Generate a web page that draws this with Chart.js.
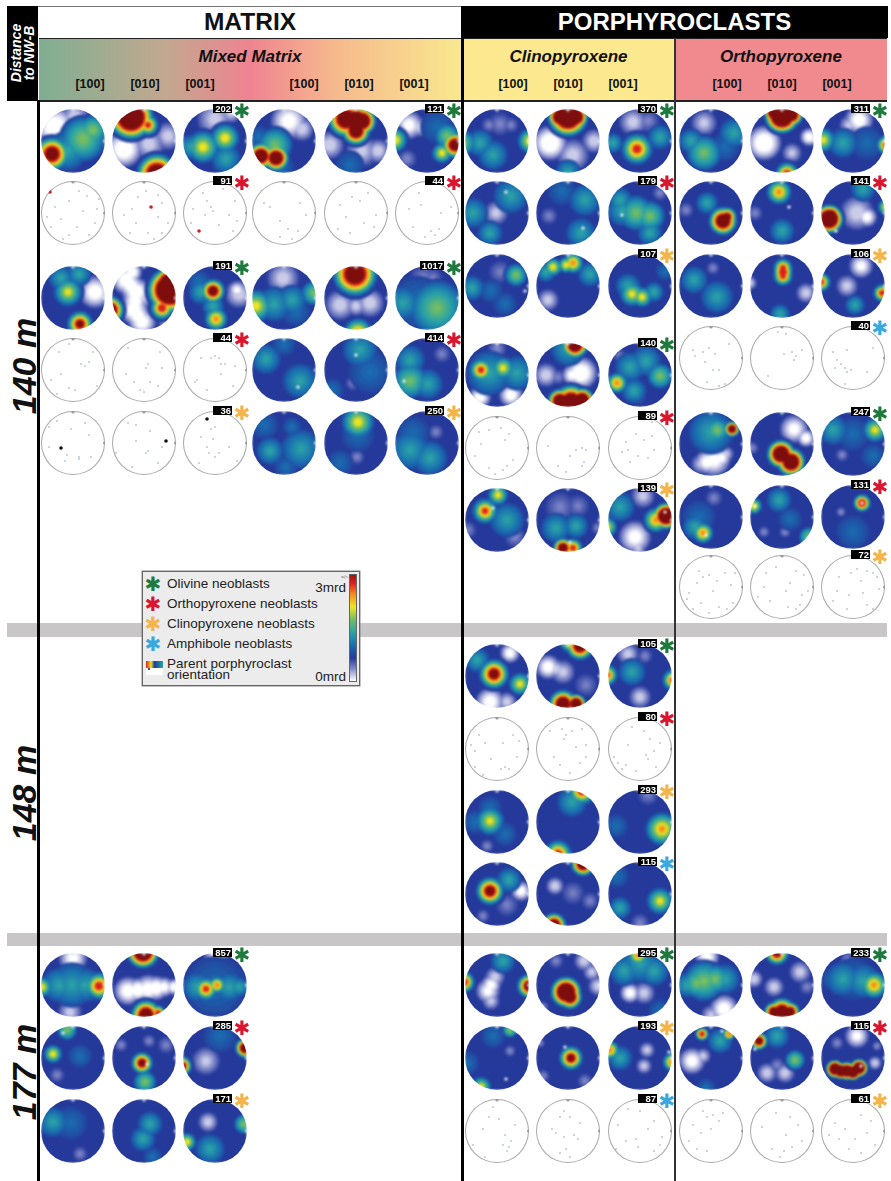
<!DOCTYPE html>
<html>
<head>
<meta charset="utf-8">
<script src="https://cdn.jsdelivr.net/npm/chart.js@4"></script>
<style>
html, body { margin: 0; padding: 0; background: #fff; }
body { position: relative; width: 891px; height: 1181px; overflow: hidden; font-family: "Liberation Sans", Arial, sans-serif; color: #111; }
.abs { position: absolute; }
.c { display: flex; align-items: center; justify-content: center; white-space: nowrap; }
.tick-label { font-weight: bold; font-size: 12.5px; transform: translateX(-50%); }
.dist { font-weight: bold; font-style: italic; font-size: 34px; transform: translate(-50%, -50%) rotate(-90deg); white-space: nowrap; }
.net { position: absolute; width: 64px; height: 64px; border-radius: 50%; overflow: hidden; }
.net canvas { display: block; filter: blur(1px); }
.net.sparse canvas { filter: none; }
.net.sparse { box-shadow: inset 0 0 0 1px #a8a8a8; }
.count { position: absolute; height: 9px; background: #000; color: #fff; font-size: 9.5px; font-weight: bold; line-height: 9px; text-align: right; padding-right: 1px; }
.star { position: absolute; font-family: "DejaVu Sans"; font-size: 20px; line-height: 20px; transform: translate(-50%, -50%); }
.leg { position: absolute; font-size: 13.5px; line-height: 13px; color: #222; white-space: nowrap; }
</style>
</head>
<body>
<script>
// Colour levels of the density scale, 0 = white ... 10 = dark red. Level 3 is the disc ground.
const levelColors = ["#ffffff", "#c9cbe8", "#7c84c6", "#25399b", "#1a6fb0", "#2aa3a6", "#74bd62", "#efe51f", "#f68d1e", "#d8201f", "#7e0d0d"];
const mineralColors = { ol: "#1e7a3c", opx: "#d9162e", cpx: "#f3b54a", amph: "#3aa8dc" };
const axisLabels = ["[100]", "[010]", "[001]"];

// Pole figures, three per row. Tuples: [x, y, peak level, outer radius, core radius],
// [x, y, "w"|"r"|"k"] parent orientation mark, [x, y] single grain of a sparse plot.
const matrixRow1a = [
  [[-18,14,0,20,9],[2,24,1,14,5],[-21,-13,10,17,6],[10,2,6,18,4],[20,11,6,12,3],[-6,-10,5,16,3]],
  [[-20,-8,0,18,8],[5,-3,1,16,5],[24,5,1,14,4],[-13,24,10,22,12],[4,16,9,11,2],[13,-33,10,20,9]],
  [[0,22,1,18,5],[16,28,1,10,3],[-12,-6,7,16,3],[-24,-6,5,10,2],[10,3,7,14,3],[11,-18,5,12,2]]
];
const matrixRow1b = [
  [[5,20,0,18,6],[18,12,1,12,4],[-23,-15,10,13,6],[-8,-17,10,13,6],[-9,-4,6,14,2],[-26,4,4,10,2],[-2,-26,4,10,2]],
  [[-26,-4,1,14,5],[6,-10,1,16,4],[22,-10,1,12,4],[-10,22,10,18,8],[6,20,10,14,7],[0,10,10,14,6],[0,20,10,14,9],[-6,-24,4,12,2]],
  [[-18,16,0,14,4],[-8,14,1,10,3],[-20,-18,2,10,3],[28,-4,10,13,5],[15,-12,7,10,2],[20,5,6,10,2],[-32,1,7,12,3],[10,14,4,14,2]]
];
const matrixRow2a = [
  [[-23,21,"r"],[14,17],[-4,12],[-18,6],[24,4],[10,2],[-12,-6],[22,-10],[4,-14],[-22,-14],[16,-22],[-4,-22],[6,22],[-10,-26],[26,14],[-26,-4]],
  [[7,6,"r"],[-6,16],[14,18],[18,10],[-12,4],[2,22],[-20,-2],[14,-4],[24,-10],[-8,-10],[4,-20],[18,-20],[-14,-20],[10,-26]],
  [[-16,-18,"r"],[-12,20],[-4,6],[-10,-2],[-2,2],[-8,12],[14,-2],[20,12],[-22,4],[4,-12],[18,-18],[-24,-10],[8,24],[22,-8]]
];
const matrixRow2b = [
  [[-14,6],[4,-16],[-4,-24],[8,-26],[14,-18],[-20,10],[16,10],[-4,-8],[22,-2]],
  [[-4,16],[4,12],[12,20],[-16,8],[20,-2],[-10,-4],[8,-10],[-6,-20],[-18,-16],[18,-14]],
  [[-6,8],[14,0],[-18,4],[4,-18],[8,-22],[-2,-24],[12,-16],[24,6],[-14,-14],[-8,20]]
];
const matrixRow3a = [
  [[22,6,0,16,6],[-5,6,7,14,2],[-12,20,5,10,2],[6,24,5,10,2],[7,-26,10,13,3]],
  [[-18,18,0,14,6],[-12,26,0,10,4],[-13,12,0,12,5],[-8,6,0,14,6],[-9,-3,0,12,5],[-10,-12,0,14,6],[-6,-18,0,12,5],[-2,-24,0,14,5],[0,2,1,13,4],[26,-24,1,12,4],[26,8,10,22,13],[24,16,10,14,7],[18,-10,9,12,3],[-34,-12,10,14,6]],
  [[24,4,1,14,5],[22,8,0,9,2],[-2,7,10,12,4],[1,-21,8,11,2],[-14,6,5,10,2],[-2,-8,5,9,2],[-16,16,4,10,2]]
];
const matrixRow3b = [
  [[-1,20,1,16,5],[-28,-8,7,16,3],[-10,-6,5,14,2],[8,-2,5,12,2],[30,5,6,10,2],[12,-14,4,12,2]],
  [[-16,-7,1,15,5],[14,-5,1,14,5],[0,-8,1,10,3],[-1,24,10,22,9],[2,-35,8,14,3]],
  [[-4,20,2,14,3],[6,20,2,10,2],[-10,-4,4,22,4],[10,-10,6,22,3],[-24,-5,5,14,2]]
];
const matrixRow4a = [
  [[8,6],[12,4],[16,8],[-14,18],[-22,-10],[-12,-4],[-4,-18],[2,-20],[-16,-24],[24,-16],[20,18],[-4,26]],
  [[2,2],[4,6],[-18,-4],[-10,-12],[6,-12],[-4,-20],[0,-22],[18,2],[14,-16],[-16,22],[16,18]],
  [[-4,12],[0,14],[4,12],[6,6],[10,6],[-14,12],[-18,-10],[-20,-12],[6,-4],[20,4],[18,-16],[-8,-20]]
];
const matrixRow4b = [
  [[-18,11,5,12,2],[16,-11,5,14,2],[0,26,4,10,2],[26,-20,4,10,2],[14,-17,"w"]],
  [[4,20,5,14,2],[-3,-13,2,8,2],[14,-2,4,18,3],[-24,-20,4,10,2],[0,15,"w"]],
  [[15,16,2,9,2],[-17,10,5,12,2],[-17,-11,6,14,2],[1,-14,5,12,2],[-23,-11,"w"]]
];
const matrixRow5a = [
  [[-12,-5,"k"],[-16,22],[-24,16],[-2,14],[16,8],[18,-14],[-6,-12],[6,-16],[-8,-18],[-24,-4],[12,20],[6,-14]],
  [[22,2,"k"],[-8,18],[-16,20],[6,12],[-8,2],[2,-10],[4,-8],[-28,-10],[14,-20],[-12,-24],[18,-4]],
  [[-8,24,"k"],[-14,6],[-4,14],[0,16],[-2,4],[-6,-10],[-8,-4],[4,-10],[0,-14],[-16,-20],[14,-4],[22,-18]]
];
const matrixRow5b = [
  [[17,-6,5,16,2],[-14,-8,5,11,2],[-20,18,4,12,2],[2,-24,4,10,2],[8,16,4,8,2]],
  [[1,-14,2,8,2],[2,21,7,16,3],[2,8,4,14,2],[-16,-20,4,11,2]],
  [[9,11,2,8,2],[-17,-7,5,16,2],[-14,10,4,14,2],[3,-15,5,14,2]]
];
const matrixRow6 = [
  [[0,27,0,14,4],[-3,-27,1,12,3],[-14,0,5,14,2],[-1,0,5,18,2],[12,0,5,14,2],[26,-1,9,14,3],[-31,-2,7,10,2]],
  [[-16,-6,0,14,5],[-6,-5,0,12,5],[4,-4,0,14,5],[12,-3,0,12,5],[20,-2,0,10,3],[30,-2,0,8,3],[-1,33,10,16,8],[2,-30,10,15,6],[14,-28,9,8,2]],
  [[1,27,0,12,4],[1,-27,2,10,2],[-18,-2,5,12,2],[0,-2,4,26,3],[14,-2,5,12,2],[-9,-4,9,12,2],[2,0,8,8,2],[24,-2,5,8,2]]
];
const matrixRow7 = [
  [[-16,-17,2,8,2],[-20,4,7,9,2],[-6,28,6,8,2],[7,2,4,10,2],[-10,25,"w"]],
  [[-23,13,2,7,2],[5,17,2,7,2],[22,13,2,9,2],[-2,-5,10,11,3],[1,-24,6,9,2],[3,-6,"w"]],
  [[-9,-3,1,14,3],[-33,-8,10,10,3],[30,10,10,10,4],[5,22,4,14,2]]
];
const matrixRow8 = [
  [[7,-23,2,8,2],[-20,9,5,12,2],[-2,8,4,14,2]],
  [[6,7,5,10,2],[-1,-8,5,10,2],[9,-26,4,8,2]],
  [[-7,9,1,10,3],[-28,-11,7,9,2],[29,7,6,8,2],[-5,-18,5,12,2]]
];

const cpxRow1 = [
  [[3,17,2,12,3],[-8,16,2,8,2],[14,16,2,8,2],[33,0,7,12,3],[-34,-2,6,10,2],[-17,-2,5,11,2],[-4,-14,5,12,2]],
  [[-18,-2,0,17,8],[5,-14,1,16,5],[26,0,1,12,4],[0,25,10,20,11],[8,24,10,12,6],[-8,24,10,12,6],[0,-31,5,10,2]],
  [[-7,19,1,14,4],[8,20,2,12,3],[-3,-8,9,16,3],[20,4,5,10,2],[-27,-2,5,8,2]]
];
const cpxRow2 = [
  [[-1,0,1,12,3],[14,17,5,14,2],[-24,0,5,12,2],[-7,-20,5,10,2],[9,21,"w"]],
  [[-19,-3,2,9,2],[17,13,5,13,2],[13,-20,5,12,2],[-6,22,4,12,2],[15,-15,"w"]],
  [[20,20,2,8,2],[-4,0,6,14,2],[10,-3,6,12,2],[-18,2,5,12,2],[-20,13,5,10,2],[10,-20,5,10,2],[-18,-2,"w"]]
];
const cpxRow3 = [
  [[3,14,2,12,2],[19,11,6,9,2],[-25,-2,5,10,2],[8,-18,4,10,2],[-6,-5,4,10,2],[28,-5,"w"]],
  [[-20,-14,1,11,3],[-15,19,7,9,2],[5,23,8,10,2],[-2,21,7,8,2],[-22,14,5,8,2],[22,12,5,10,2]],
  [[-8,-8,7,12,2],[2,-11,7,10,2],[-12,0,5,10,2],[14,-6,5,8,2],[25,15,4,8,2]]
];
const cpxRow5 = [
  [[0,26,2,10,3],[-17,-22,0,11,4],[14,-20,0,12,4],[-8,2,5,18,3],[20,2,5,14,2],[-16,5,9,12,2],[6,7,7,11,2]],
  [[13,2,0,16,7],[4,0,0,10,3],[-22,0,1,12,4],[-10,-2,2,8,2],[7,30,10,13,6],[0,26,5,14,2],[3,-27,10,17,8],[-8,-26,10,12,6],[14,-25,10,12,6]],
  [[5,24,2,10,2],[-20,19,2,7,2],[-3,-20,2,10,2],[-23,-8,8,10,2],[20,-1,6,10,2],[-10,8,5,12,2],[6,14,5,12,2],[-6,-16,5,10,2]]
];
const cpxRow6 = [
  [[-18,16],[-8,18],[4,20],[12,14],[-16,4],[-22,-8],[-8,-20],[6,-22],[10,-18],[-2,-26],[8,8],[16,-12]],
  [[-20,2],[8,-2],[14,0],[18,-2],[-10,-18],[14,-18],[16,-14],[2,-8],[-2,-24]],
  [[-14,6],[-4,14],[-12,-2],[4,8],[12,12],[14,-2],[-18,-4],[-2,-8],[8,-10],[-10,-14],[12,26]]
];
const cpxRow7 = [
  [[-29,-10,2,9,2],[18,-17,2,11,3],[10,0,5,14,2],[-12,9,9,13,2],[1,25,7,10,2],[-4,12,"w"]],
  [[-8,13,2,16,3],[10,14,2,12,2],[30,-8,2,7,2],[-12,-8,5,12,2],[8,-6,5,10,2],[-5,-28,10,10,4],[5,-28,9,10,2],[2,-22,"w"]],
  [[-5,-17,0,16,5],[-2,-28,1,8,2],[3,24,1,12,3],[-20,13,5,12,2],[-33,-7,7,10,2],[16,0,8,12,2],[26,4,10,13,7],[25,8,"w"]]
];

const opxRow1 = [
  [[-7,18,1,13,3],[-7,-12,6,14,2],[-20,0,5,10,2],[23,8,5,12,2],[14,-6,4,12,2]],
  [[-18,-2,0,17,8],[27,4,0,9,3],[10,-12,1,10,2],[0,25,10,17,10],[10,26,10,11,5],[-8,28,10,10,5],[5,-33,9,12,3]],
  [[6,21,0,14,5],[-4,16,1,10,2],[14,-2,4,14,2],[-30,1,7,12,2],[-10,-2,5,12,2],[33,-4,9,10,2]]
];
const opxRow2 = [
  [[-25,3,2,8,2],[-4,10,5,9,2],[12,-8,10,14,6],[16,-4,10,10,3]],
  [[-27,0,2,8,2],[-3,21,8,12,2],[0,-18,5,10,2],[7,6,"w"]],
  [[4,0,1,17,6],[14,-4,0,10,3],[10,24,5,10,2],[33,6,7,8,2],[-24,-6,10,14,8],[-22,-2,10,10,4],[-17,-18,"w"]]
];
const opxRow3 = [
  [[2,18,2,7,2],[-17,6,5,11,2],[6,-11,5,13,2]],
  [[24,-7,1,10,3],[-32,3,1,7,2],[1,18,9,10,2],[1,14,9,10,3],[1,10,9,10,2],[-2,-28,5,8,2]],
  [[-6,0,1,11,3],[8,20,0,12,3],[2,-19,5,8,2],[-32,4,9,10,2],[29,-7,9,9,2]]
];
const opxRow4 = [
  [[-18,8],[-16,2],[-8,6],[-2,10],[4,4],[-6,-4],[2,-12],[8,-12],[-4,-24],[8,-28],[14,-26],[18,14]],
  [[2,4],[10,6],[14,2],[12,-2],[20,8],[-14,-18],[-4,26],[4,24]],
  [[-20,6],[-16,-2],[-12,-6],[-8,-10],[-6,-14],[-2,-12],[-18,-10],[-6,8],[14,-14],[-8,-26],[20,10]]
];
const opxRow5 = [
  [[3,-16,0,16,5],[-4,-18,0,12,4],[10,-14,0,10,3],[-10,-20,1,10,2],[15,-10,1,8,2],[0,12,5,18,3],[6,14,6,10,2],[21,15,10,8,3]],
  [[12,15,0,14,4],[24,6,0,9,3],[-30,-4,2,7,2],[-1,-10,10,14,7],[9,-18,10,14,7]],
  [[-11,-11,2,7,2],[-20,14,5,12,2],[0,10,4,14,2],[20,-12,4,10,2],[22,14,7,12,2]]
];
const opxRow6 = [
  [[3,19,2,9,2],[-12,0,4,14,2],[-16,-10,5,10,2],[-8,-16,8,10,2],[-5,-18,"w"]],
  [[-18,-15,2,6,2],[3,-15,2,6,2],[8,-2,4,10,2],[-3,17,5,10,2],[27,-20,6,8,2],[-28,11,7,8,2],[-27,11,"w"]],
  [[-12,5,2,5,2],[0,-15,4,14,2],[9,14,9,9,3],[9,14,"w"]]
];
const opxRow7 = [
  [[-12,16],[-8,10],[-14,4],[-2,12],[6,6],[14,14],[24,14],[-22,-6],[-24,-12],[-10,-16],[-18,-22],[2,-4],[8,-20],[16,-22],[22,-16],[-2,-26],[20,2]],
  [[-16,14],[-6,20],[14,16],[22,12],[-18,0],[8,4],[4,-4],[20,-8],[-12,-14],[6,-20],[14,-22],[18,-18],[-24,-10],[26,-4]],
  [[-14,10],[-2,14],[4,18],[14,16],[20,14],[24,10],[8,6],[-16,-4],[-20,-14],[-4,-8],[10,-6],[-6,-22],[14,-18],[20,-22],[26,-2]]
];

const cpxMid1 = [
  [[13,23,0,10,3],[-7,-26,0,14,5],[10,-26,1,10,3],[-20,16,5,10,2],[-3,2,10,15,4],[23,-8,7,11,2]],
  [[-20,9,0,12,4],[-12,7,1,10,3],[-5,4,1,12,3],[18,-9,2,12,2],[12,30,10,14,5],[2,34,8,10,2],[-5,-28,10,14,6],[8,-28,10,10,5]],
  [[-12,22,1,11,3],[5,20,2,8,2],[0,-21,1,11,3],[-33,1,9,11,2],[33,-4,9,11,2],[-8,4,5,11,2]]
];
const cpxMid2 = [
  [[-26,4],[-22,-2],[-18,14],[-12,6],[6,6],[-6,-10],[-22,-18],[4,-20],[8,-18],[12,-20],[22,8],[16,14],[-14,-26],[20,-8]],
  [[-18,18],[-6,20],[-4,10],[4,18],[14,20],[8,2],[18,4],[-14,-8],[18,-8],[-8,-16],[2,-24],[12,-14],[-2,14]],
  [[-8,22],[4,18],[-12,4],[10,10],[-26,-8],[-14,-16],[-18,-20],[6,-6],[8,-10],[14,-2],[-4,-22],[16,-18],[-22,-14],[20,6]]
];
const cpxMid3 = [
  [[-10,-24,2,7,2],[-7,14,4,10,2],[-22,0,4,10,2],[8,-12,4,10,2],[-7,1,7,14,2]],
  [[4,20,5,12,2],[14,31,9,14,3],[-10,-32,9,14,3]],
  [[8,27,2,11,2],[-24,-4,4,10,2],[22,-7,8,16,2]]
];
const cpxMid4 = [
  [[24,3,0,10,3],[10,-11,2,12,2],[-14,-22,2,7,2],[12,14,5,10,2],[-7,3,10,14,4]],
  [[-13,8,1,9,3],[5,1,2,12,2],[22,-7,2,9,2],[15,30,10,12,5],[-14,-31,10,12,5]],
  [[0,-29,2,10,2],[-20,-14,5,9,2],[-23,18,4,10,2],[20,-7,7,13,2]]
];

const cpxLow1 = [
  [[-9,-6,0,12,3],[-6,0,0,10,3],[-2,8,1,10,3],[-6,-16,1,9,2],[6,24,5,10,2],[-33,3,9,11,3],[32,-1,10,12,4]],
  [[-12,24,2,8,2],[16,24,1,10,3],[30,-1,1,10,3],[24,13,1,9,2],[-25,-22,2,6,2],[-2,-7,10,15,8],[2,-12,10,12,5]],
  [[-10,-8,0,10,3],[4,-8,1,11,3],[20,-26,4,10,2],[-16,14,5,12,2],[14,14,5,12,2],[0,22,5,16,2],[-2,30,8,10,2]]
];
const cpxLow2 = [
  [[13,7,2,6,2],[-4,22,4,10,2],[-30,-5,4,10,2],[13,28,6,6,2],[-16,-29,7,10,2],[9,-21,"w"]],
  [[-25,-18,2,7,2],[17,-23,2,8,2],[-28,15,2,5,2],[3,0,10,12,3],[-3,11,"w"]],
  [[7,8,1,8,2],[4,-8,1,8,2],[-20,0,5,10,2],[-30,8,8,9,2],[32,-4,8,9,2],[29,6,"w"]]
];
const cpxLow3 = [
  [[-8,14],[2,12],[-14,2],[8,-4],[6,-14],[12,-16],[10,-20],[14,-10],[-12,-26],[-24,-14],[-4,24],[18,6]],
  [[-4,20],[-8,14],[2,14],[-16,2],[-12,-2],[-4,-6],[6,-4],[-2,-18],[2,-26],[12,8],[10,-8],[-8,-22]],
  [[-12,22],[-22,6],[-14,-10],[-24,-18],[-4,-8],[8,2],[14,10],[22,-6],[-2,-16],[14,-20],[20,-14],[0,20]]
];

const opxLow1 = [
  [[-4,28,0,12,4],[13,-24,0,14,5],[0,-30,1,10,2],[-14,2,6,12,2],[-7,4,6,16,3],[4,6,6,12,2],[-24,0,5,10,2],[14,6,5,12,2]],
  [[18,13,1,11,3],[-8,-2,1,10,3],[-28,6,1,9,3],[25,-2,2,8,2],[-5,32,10,12,3],[0,-27,10,14,6],[8,-27,10,10,4],[-8,-27,10,10,4]],
  [[-6,26,2,7,2],[-10,6,5,14,2],[0,6,4,18,2],[10,4,5,14,2],[-20,6,4,10,2],[21,0,8,13,2]]
];
const opxLow2 = [
  [[-19,-3,0,13,4],[-8,2,1,8,2],[-5,-30,4,8,2],[9,17,5,10,2],[-9,24,9,7,2],[18,24,8,6,2],[11,27,"w"]],
  [[-15,-15,1,10,3],[3,-15,1,10,3],[-5,-7,2,8,2],[13,-2,6,8,2],[-5,22,5,10,2],[-23,17,10,9,3],[-27,9,"w"]],
  [[4,22,0,12,3],[-16,15,2,7,2],[22,-5,1,7,2],[24,12,2,5,2],[-18,-11,10,9,5],[-12,-13,10,8,5],[-6,-13,10,9,5],[0,-14,10,8,5],[6,-10,10,9,5],[8,-8,"w"]]
];
const opxLow3 = [
  [[-8,20],[-4,14],[2,16],[8,10],[12,18],[-18,6],[-10,-2],[0,2],[-14,-18],[-4,-20],[-22,-10]],
  [[-6,18],[8,14],[-20,4],[4,-4],[16,6],[-10,-18],[2,-20],[10,-16],[20,-10],[-2,-26]],
  [[-18,8],[-8,2],[8,16],[18,10],[-14,-8],[2,-8],[14,-2],[-4,-18],[8,-22],[22,-14],[-24,-4]]
];

// Column centres, one row per entry: columns, row centre, n, mineral, nets
const matrixColsA = [73, 144, 215];
const matrixColsB = [284, 356, 427];
const cpxCols = [497, 568, 640];
const opxCols = [711, 782, 853];
const rows = [
  [matrixColsA, 141, "202", "ol", matrixRow1a], [matrixColsB, 141, "121", "ol", matrixRow1b],
  [matrixColsA, 213, "91", "opx", matrixRow2a], [matrixColsB, 213, "44", "opx", matrixRow2b],
  [matrixColsA, 298, "191", "ol", matrixRow3a], [matrixColsB, 298, "1017", "ol", matrixRow3b],
  [matrixColsA, 370, "44", "opx", matrixRow4a], [matrixColsB, 370, "414", "opx", matrixRow4b],
  [matrixColsA, 443, "36", "cpx", matrixRow5a], [matrixColsB, 443, "250", "cpx", matrixRow5b],
  [matrixColsA, 985, "857", "ol", matrixRow6], [matrixColsA, 1058, "285", "opx", matrixRow7], [matrixColsA, 1131, "171", "cpx", matrixRow8],
  [cpxCols, 141, "370", "ol", cpxRow1], [cpxCols, 213, "179", "opx", cpxRow2], [cpxCols, 286, "107", "cpx", cpxRow3],
  [cpxCols, 375, "140", "ol", cpxRow5], [cpxCols, 448, "89", "opx", cpxRow6], [cpxCols, 520, "139", "cpx", cpxRow7],
  [cpxCols, 676, "105", "ol", cpxMid1], [cpxCols, 749, "80", "opx", cpxMid2], [cpxCols, 822, "293", "cpx", cpxMid3], [cpxCols, 894, "115", "amph", cpxMid4],
  [cpxCols, 985, "295", "ol", cpxLow1], [cpxCols, 1058, "193", "cpx", cpxLow2], [cpxCols, 1131, "87", "amph", cpxLow3],
  [opxCols, 141, "311", "ol", opxRow1], [opxCols, 213, "141", "opx", opxRow2], [opxCols, 286, "106", "cpx", opxRow3], [opxCols, 358, "40", "amph", opxRow4],
  [opxCols, 444, "247", "ol", opxRow5], [opxCols, 517, "131", "opx", opxRow6], [opxCols, 587, "72", "cpx", opxRow7],
  [opxCols, 985, "233", "ol", opxLow1], [opxCols, 1058, "115", "opx", opxLow2], [opxCols, 1131, "61", "cpx", opxLow3]
];

function el(cls, css, html) {
  var d = document.createElement("div");
  d.className = cls;
  d.style.cssText = css;
  if (html !== undefined) d.innerHTML = html;
  document.body.appendChild(d);
  return d;
}

// Fine steps between the named levels, so contours read as a smooth field.
function levelColor(l) {
  var lo = Math.min(10, Math.floor(l + 1e-6)), hi = Math.min(10, lo + 1), t = Math.max(0, l - lo);
  var a = parseInt(levelColors[lo].slice(1), 16), b = parseInt(levelColors[hi].slice(1), 16);
  var mix = function (s) { return Math.round(((a >> s) & 255) * (1 - t) + ((b >> s) & 255) * t); };
  return "rgb(" + mix(16) + "," + mix(8) + "," + mix(0) + ")";
}

var levelStep = 0.2;

function bubblesFor(net) {
  var bands = [], marks = [];
  var sparse = !net.some(function (s) { return s.length === 5; });
  net.forEach(function (s) {
    if (s.length === 2) { marks.push({ x: s[0], y: s[1], r: 0.7, c: "#6f87a8" }); return; }
    if (s.length === 3) {
      var col = s[2] === "w" ? "#ffffff" : s[2] === "r" ? "#c8202c" : "#111111";
      marks.push({ x: s[0], y: s[1], r: s[2] === "w" ? 1.6 : 1.8, c: col });
      return;
    }
    var peak = s[2], core = s[4], n, i, l, t;
    if (peak < 3) {
      var outerLow = s[3] * 1.1;
      n = Math.round((3 - peak) / levelStep);
      for (i = 1; i <= n; i++) {
        l = 3 - i * levelStep; t = i / n;
        bands.push({ x: s[0], y: s[1], r: outerLow + (core - outerLow) * t, c: levelColor(l), l: l, low: 1 });
      }
    } else {
      // the broad blue shoulders of weak maxima reach further than the tight rings of strong ones
      var outer = s[3] * (peak <= 6 ? 1.3 : 1.12);
      var bend = peak <= 6 ? 1.5 : peak <= 8 ? 1 : 0.75;
      if (peak >= 6) bands.push({ x: s[0], y: s[1], r: outer + 1, c: levelColor(3), l: 3, low: 0 });
      n = Math.round((peak - 3) / levelStep);
      for (i = 1; i <= n; i++) {
        l = 3 + i * levelStep; t = Math.pow(i / n, bend);
        bands.push({ x: s[0], y: s[1], r: outer + (core - outer) * t, c: levelColor(l), l: l, low: 0 });
      }
    }
  });
  // whites under everything, then rising levels so peaks merge like contours
  bands.sort(function (a, b) {
    if (a.low !== b.low) return b.low - a.low;
    return a.low ? b.l - a.l : a.l - b.l;
  });
  if (!sparse) bands.unshift({ x: 0, y: 0, r: 46, c: levelColor(3) });
  var tickCol = sparse ? "#9a9a9a" : "#d7e6f0";
  marks.push({ x: 0, y: 31, r: 1.6, c: tickCol }, { x: 31.5, y: 0, r: 1.5, c: sparse ? "#9a9a9a" : "#eef4f8" });
  return { sparse: sparse, pts: bands.concat(marks) };
}

function drawNet(cx, cy, net) {
  var built = bubblesFor(net);
  var host = el("net" + (built.sparse ? " sparse" : ""), "left:" + (cx - 32) + "px;top:" + (cy - 32) + "px;");
  var cv = document.createElement("canvas");
  cv.width = 64; cv.height = 64;
  cv.style.width = "64px"; cv.style.height = "64px";
  host.appendChild(cv);
  new Chart(cv, {
    type: "bubble",
    data: { datasets: [{
      data: built.pts,
      backgroundColor: function (c) { return c.raw ? c.raw.c : "#000"; },
      borderWidth: 0
    }] },
    options: {
      responsive: false, animation: false, events: [],
      layout: { padding: 0, autoPadding: false },
      plugins: { legend: { display: false }, tooltip: { enabled: false } },
      scales: { x: { display: false, min: -32, max: 32 }, y: { display: false, min: -32, max: 32 } }
    }
  });
}

// Header and frame
el("abs", "left:7px;top:6px;width:881px;height:1px;background:#777;");
el("abs c", "left:39px;top:7px;width:422px;height:30px;background:#fff;font-weight:bold;font-size:24.5px;", "MATRIX");
el("abs c", "left:461px;top:6px;width:427px;height:32px;background:#000;color:#fff;font-weight:bold;font-size:24px;", "PORPHYROCLASTS");
el("abs", "left:7px;top:6px;width:31px;height:95px;background:#000;");
el("abs c", "left:22.5px;top:53px;width:90px;height:30px;color:#fff;font-weight:bold;font-style:italic;font-size:14px;line-height:13px;text-align:center;white-space:normal;transform:translate(-50%,-50%) rotate(-90deg);", "Distance<br>to NW-B");
var subHeadCss = "top:38px;height:61px;border:solid #222;border-width:1px 0 2px 0;font-weight:bold;font-style:italic;font-size:17px;padding-bottom:26px;height:35px;box-sizing:content-box;";
el("abs c", "left:39px;width:422px;background:linear-gradient(90deg,#7fae92 0%,#c2a88f 30%,#ef8391 50%,#f6b98d 70%,#f8e88f 100%);" + subHeadCss, "Mixed Matrix");
el("abs c", "left:463px;width:211px;background:#fbe88f;" + subHeadCss, "Clinopyroxene");
el("abs c", "left:675px;width:212px;background:#f08a8e;" + subHeadCss, "Orthopyroxene");
[[90, 145, 200], [304, 359, 414], [513, 568, 623], [727, 782, 837]].forEach(function (set) {
  set.forEach(function (x, i) { el("abs tick-label", "left:" + x + "px;top:77px;", axisLabels[i]); });
});

// Grey bands between sample distances, then the column rules
el("abs", "left:7px;top:623px;width:880px;height:14px;background:#c8c6c6;");
el("abs", "left:7px;top:933px;width:880px;height:13px;background:#c8c6c6;");
el("abs", "left:37px;top:100px;width:3px;height:1081px;background:#000;");
el("abs", "left:461px;top:38px;width:3px;height:1143px;background:#000;");
el("abs", "left:674px;top:38px;width:2px;height:1143px;background:#333;");

el("abs dist", "left:24px;top:366px;", "140 m");
el("abs dist", "left:24px;top:793px;", "148 m");
el("abs dist", "left:24px;top:1072px;", "177 m");

// Pole figures with their grain count and phase star
rows.forEach(function (row) {
  var cols = row[0], cy = row[1], n = row[2], mineral = row[3], nets = row[4];
  nets.forEach(function (net, i) { drawNet(cols[i], cy, net); });
  var right = cols[2] + 17, w = n.length > 3 ? 23 : 18;
  el("count", "left:" + (right - w - 1) + "px;top:" + (cy - 37) + "px;width:" + w + "px;", n);
  el("star", "left:" + (cols[2] + 27) + "px;top:" + (cy - 30) + "px;color:" + mineralColors[mineral] + ";", "\u2731");
});

// Legend
el("abs", "left:142px;top:571px;width:216px;height:113px;background:#ececec;border:1px solid #666;box-shadow:0 0 0 0.5px #888;z-index:5;");
var legendEntries = [["Olivine neoblasts", "ol", 583], ["Orthopyroxene neoblasts", "opx", 603], ["Clinopyroxene neoblasts", "cpx", 623], ["Amphibole neoblasts", "amph", 643]];
legendEntries.forEach(function (e) {
  el("star", "z-index:6;left:153px;top:" + (e[2] + 1) + "px;color:" + mineralColors[e[1]] + ";", "\u2731");
  el("leg", "z-index:6;left:167px;top:" + (e[2] - 6) + "px;", e[0]);
});
el("leg", "z-index:6;left:167px;top:658px;line-height:11px;", "Parent porphyroclast<br>orientation");
el("leg", "z-index:6;right:545px;top:581px;", "3mrd");
el("leg", "z-index:6;right:545px;top:670px;", "0mrd");
el("abs", "z-index:6;left:341px;top:574px;font-size:5px;line-height:6px;color:#777;", "=/&gt;");
el("abs", "z-index:6;left:349px;top:574px;width:8px;height:108px;border:0.5px solid #666;box-sizing:border-box;background:linear-gradient(180deg,#a01010 0%,#e02020 8%,#f58a1f 18%,#efe51f 30%,#74bd62 42%,#2aa3a6 54%,#1a6fb0 66%,#25399b 78%,#7c84c6 88%,#ffffff 100%);");
el("abs", "z-index:6;left:146px;top:661px;width:17px;height:7px;background:linear-gradient(90deg,#d8201f 0%,#efe51f 30%,#1f3d99 50%,#2aa3a6 100%);");
el("abs", "z-index:6;left:146px;top:668px;width:17px;height:7px;background:#fff;");
el("abs", "z-index:6;left:148px;top:668px;width:2px;height:2px;border-radius:50%;background:#111;");
</script>
</body>
</html>
